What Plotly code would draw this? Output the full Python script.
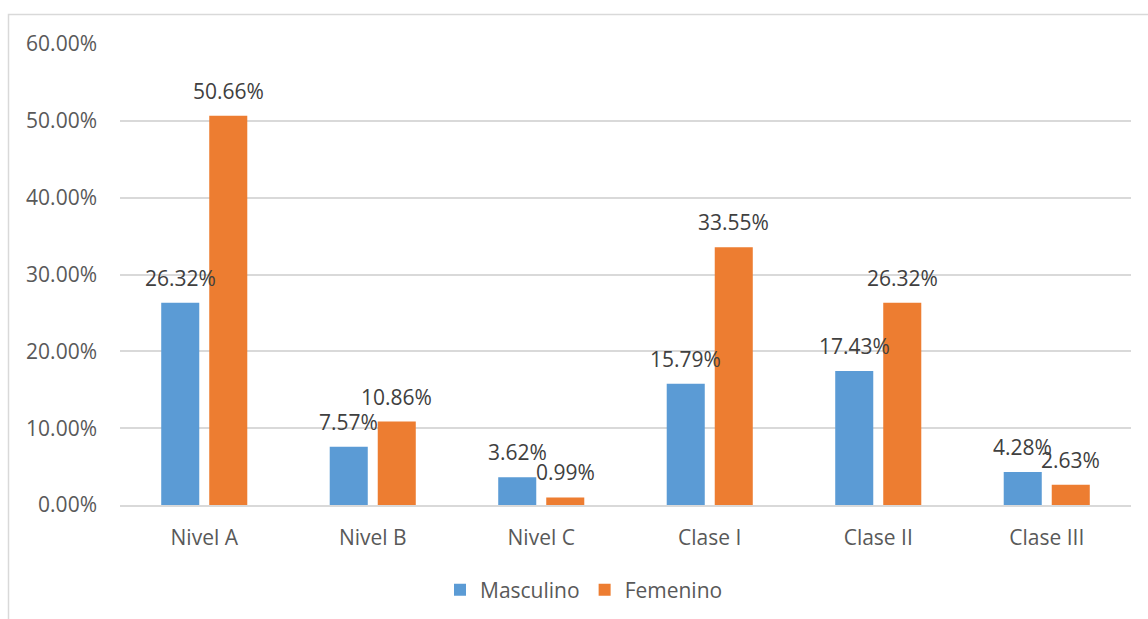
import plotly.graph_objects as go

categories = ["Nivel A", "Nivel B", "Nivel C", "Clase I", "Clase II", "Clase III"]
masculino = [26.32, 7.57, 3.62, 15.79, 17.43, 4.28]
femenino = [50.66, 10.86, 0.99, 33.55, 26.32, 2.63]
series = [("Masculino", masculino, "#5B9BD5"), ("Femenino", femenino, "#ED7D31")]

W, H = 1148, 619
L, R, T, B = 120, 17, 44, 114
plot_w = W - L - R
plot_h = H - T - B

def px_x(p):
    return (p - L) / plot_w

def px_y(p):
    return (H - B - p) / plot_h

FONT = "Open Sans"
FS = 21

fig = go.Figure()
for name, vals, color in series:
    fig.add_trace(go.Bar(
        x=categories, y=vals, name=name,
        marker=dict(color=color, line=dict(width=0)),
    ))

# value labels above each bar
annotations = []
for k, (name, vals, color) in enumerate(series):
    shift = -24 if k == 0 else 24
    for c, v in zip(categories, vals):
        annotations.append(dict(
            x=c, y=v, xref="x", yref="y", text=f"{v:.2f}%",
            showarrow=False, xshift=shift, yanchor="bottom", yshift=9,
            font=dict(family=FONT, size=FS, color="#404040"),
        ))

fig.update_layout(
    width=W, height=H,
    margin=dict(l=L, r=R, t=T, b=B, autoexpand=False),
    paper_bgcolor="white", plot_bgcolor="white",
    barmode="group", bargap=0.43, bargroupgap=0.208,
    font=dict(family=FONT, size=FS, color="#595959"),
    showlegend=True,
    legend=dict(
        orientation="h", x=px_x(584), xanchor="center",
        y=px_y(590), yanchor="middle",
        font=dict(family=FONT, size=FS, color="#595959"),
        itemwidth=30, traceorder="normal",
    ),
    annotations=annotations,
    shapes=[dict(
        type="rect", xref="paper", yref="paper",
        x0=px_x(8.5), x1=px_x(1170), y0=px_y(640), y1=px_y(14.5),
        line=dict(color="#d9d9d9", width=1.5), fillcolor="rgba(0,0,0,0)",
        layer="below",
    )],
)

fig.update_xaxes(
    showgrid=False, showline=True, linecolor="#d9d9d9", linewidth=1.5,
    ticks="", ticklabelstandoff=13, automargin=False,
    tickfont=dict(family=FONT, size=FS, color="#595959"),
)
fig.update_yaxes(
    range=[0, 60], dtick=10, tickformat=".2f", ticksuffix="%",
    showgrid=True, gridcolor="#d9d9d9", gridwidth=1.5,
    zeroline=False, showline=False, ticks="", ticklabelstandoff=22,
    automargin=False,
    tickfont=dict(family=FONT, size=FS, color="#595959"),
)

fig.write_html("out.html")
